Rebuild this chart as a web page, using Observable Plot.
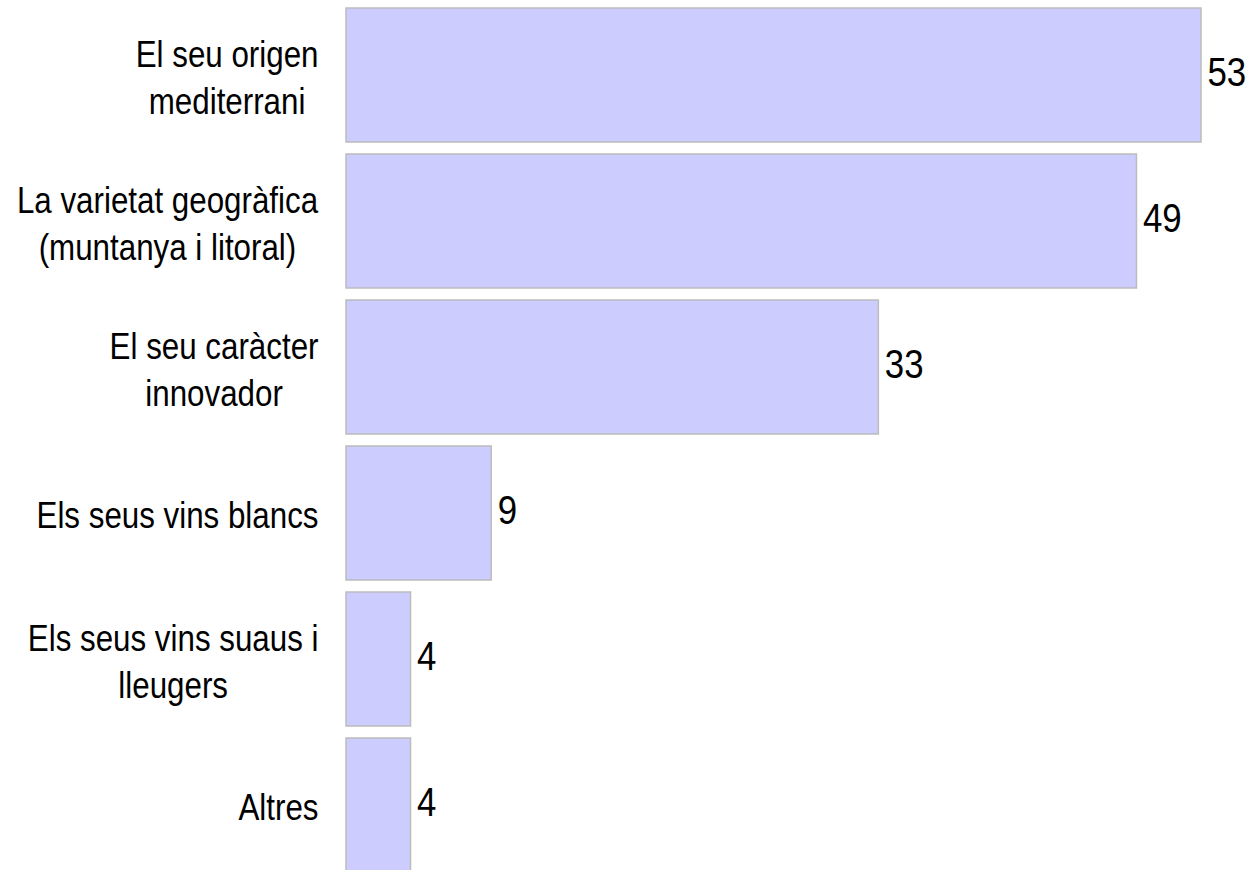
<!DOCTYPE html>
<html><head><meta charset="utf-8">
<script src="https://cdn.jsdelivr.net/npm/d3@7"></script>
<script src="https://cdn.jsdelivr.net/npm/@observablehq/plot@0.6"></script>
<style>html,body{margin:0;padding:0;background:#fff;overflow:hidden}</style>
</head><body><div id="chart"></div>
<script>
const categories = [
  "El seu origen\nmediterrani",
  "La varietat geogràfica\n(muntanya i litoral)",
  "El seu caràcter\ninnovador",
  "Els seus vins blancs",
  "Els seus vins suaus i\nlleugers",
  "Altres"
];
const values = [53, 49, 33, 9, 4, 4];
const data = categories.map((c, i) => ({label: c, value: values[i]}));
const FONT = '"Liberation Sans Narrow", "Arial Narrow", "Liberation Sans", Arial, sans-serif';
const NARROW = 0.87; // horizontal squeeze to imitate a narrow face

const chart = Plot.plot({
  width: 1252, height: 870,
  marginLeft: 346, marginRight: 51, marginTop: 0, marginBottom: 0,
  x: {domain: [0, 53], axis: null},
  y: {domain: categories, range: [-4, 884], padding: 0.082, axis: null},
  style: {fontFamily: FONT, background: "#fff", color: "#000"},
  marks: [
    Plot.barX(data, {y: "label", x: "value", fill: "#ccccff", stroke: "#bcbcbc", strokeWidth: 1.5}),
    Plot.text(data, {y: "label", x: "value", text: d => String(d.value), textAnchor: "start", dx: 6, dy: -2, fontSize: 40, fill: "#000", className: "val-label"}),
    Plot.text(data, {y: "label", text: "label", frameAnchor: "left", textAnchor: "end", dx: -28, fontSize: 36, lineHeight: 1.3, fill: "#000", className: "cat-label"})
  ]
});
document.getElementById("chart").appendChild(chart);
chart.querySelectorAll(".val-label text").forEach(t => {
  t.setAttribute("transform", (t.getAttribute("transform") || "") + ` scale(${NARROW},1)`);
});
// center the lines of each category label within its block, keeping the block right-aligned
chart.querySelectorAll(".cat-label text").forEach(t => {
  const w = t.getBBox().width;
  t.setAttribute("text-anchor", "middle");
  t.style.textAnchor = "middle";
  t.setAttribute("transform", (t.getAttribute("transform") || "") + ` translate(${-w * NARROW / 2},0) scale(${NARROW},1)`);
});
</script>
</body></html>
